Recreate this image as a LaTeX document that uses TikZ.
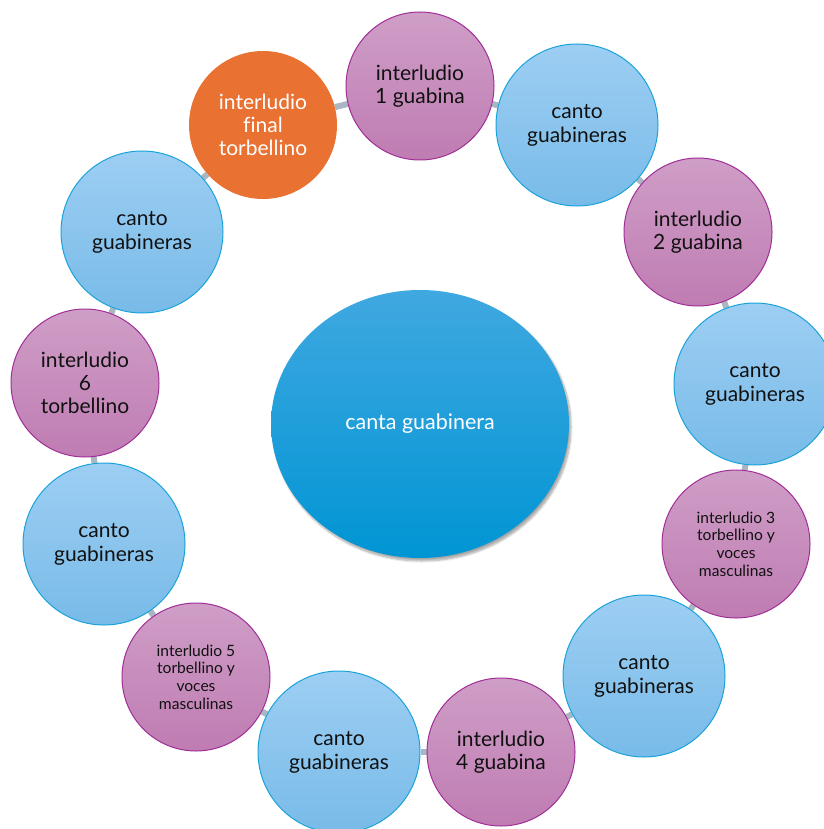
\documentclass[tikz,border=0pt]{standalone}
\usepackage{fontspec}
\setmainfont{Lato}[Ligatures=NoCommon]
\usetikzlibrary{backgrounds,shapes.geometric,shadows.blur}

\definecolor{cantotop}{HTML}{9DCEF3}
\definecolor{cantobot}{HTML}{78BBE8}
\definecolor{cantoline}{HTML}{1AA3D9}
\definecolor{intertop}{HTML}{CF9EC7}
\definecolor{interbot}{HTML}{BF7CB2}
\definecolor{interline}{HTML}{A12F98}
\definecolor{finalfill}{HTML}{E97132}
\definecolor{centertop}{HTML}{40A8E0}
\definecolor{centerbot}{HTML}{0095D4}
\definecolor{ringgray}{HTML}{A9B7C3}
\definecolor{textdark}{HTML}{111111}

\begin{document}
\begin{tikzpicture}[x=1pt,y=-1pt,
    every node/.style={align=center,inner sep=0pt},
    canto node/.style={circle,draw=cantoline,line width=1pt,top color=cantotop,bottom color=cantobot,
                       minimum size=162pt,text=textdark,font=\fontsize{21}{24}\selectfont},
    inter node/.style={circle,draw=interline,line width=1pt,top color=intertop,bottom color=interbot,
                       minimum size=148pt,text=textdark,font=\fontsize{21}{23}\selectfont},
    small text/.style={font=\fontsize{15.6}{17.6}\selectfont},
    final node/.style={circle,fill=finalfill,minimum size=148pt,text=white,font=\fontsize{21}{23}\selectfont},
    center node/.style={ellipse,top color=centertop,bottom color=centerbot,minimum width=298pt,minimum height=268pt,
                        text=white,font=\fontsize{21.5}{24}\selectfont,
                        blur shadow={shadow xshift=2pt,shadow yshift=-3pt,shadow blur steps=8,shadow opacity=35}},
    ring/.style={draw=ringgray,line width=6pt}]
  \useasboundingbox (0,0) rectangle (823,829);

  \node[center node] (c) at (420,424) {canta guabinera};

  \node[inter node] (i1) at (420,86) {interludio\\1 guabina};
  \node[canto node] (g2) at (577,125) {canto\\guabineras};
  \node[inter node] (i2) at (698,232) {interludio\\2 guabina};
  \node[canto node] (g4) at (755,384) {canto\\guabineras};
  \node[inter node,small text] (i3) at (736,544) {interludio 3\\torbellino y\\voces\\masculinas};
  \node[canto node] (g6) at (644,676) {canto\\guabineras};
  \node[inter node] (i4) at (501,752) {interludio\\4 guabina};
  \node[canto node] (g8) at (339,752) {canto\\guabineras};
  \node[inter node,small text] (i5) at (196,677) {interludio 5\\torbellino y\\voces\\masculinas};
  \node[canto node] (g10) at (104,544) {canto\\guabineras};
  \node[inter node] (i6) at (85,383) {interludio\\6\\torbellino};
  \node[canto node] (g12) at (142,232) {canto\\guabineras};
  \node[final node] (f) at (263,125) {interludio\\final\\torbellino};

  \begin{pgfonlayer}{background}
    \path[ring]
      (i1) edge (g2)
      (g2) edge (i2)
      (i2) edge (g4)
      (g4) edge (i3)
      (i3) edge (g6)
      (g6) edge (i4)
      (i4) edge (g8)
      (g8) edge (i5)
      (i5) edge (g10)
      (g10) edge (i6)
      (i6) edge (g12)
      (g12) edge (f)
      (f) edge (i1);
  \end{pgfonlayer}
\end{tikzpicture}
\end{document}
